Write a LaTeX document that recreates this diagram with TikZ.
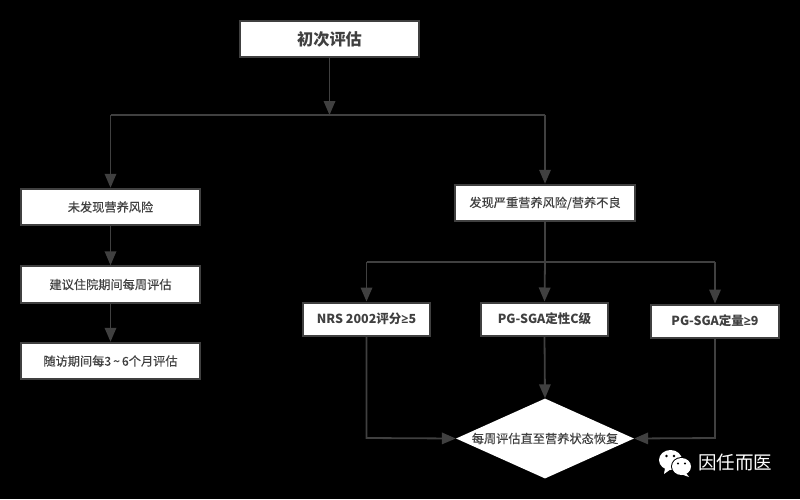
\documentclass[tikz,border=0pt]{standalone}
\usepackage{fontspec}
\usetikzlibrary{shapes.geometric,arrows.meta,calc}
\setmainfont{Noto Sans CJK SC}
\newfontfamily\medf[FakeBold=0.2]{Noto Sans CJK SC}
\newfontfamily\latinb{Open Sans}
\definecolor{ink}{HTML}{404040}
\tikzset{
  x=1pt,y=-1pt,
  box/.style={draw=ink,fill=white,line width=2pt,inner sep=0pt,text=ink,font=\fontsize{12.2}{14}\selectfont\medf},
  strong/.style={font=\fontsize{12.5}{14}\selectfont\bfseries},
  conn/.style={draw=ink,line width=1.8pt,-{Triangle[length=14pt,width=11.5pt]}},
  plain/.style={draw=ink,line width=1.8pt},
}
\begin{document}
\begin{tikzpicture}
\useasboundingbox[fill=black] (0,0) rectangle (800,499);
\node[box,minimum width=179pt,minimum height=36.5pt,font=\fontsize{16.2}{18}\selectfont\bfseries] (top) at (329.5,39) {\raisebox{-1.5pt}{初次评估}};
\node[box,minimum width=179pt,minimum height=36.5pt] (l1) at (110.5,207) {未发现营养风险};
\node[box,minimum width=179pt,minimum height=36.5pt] (l2) at (110.5,284.5) {建议住院期间每周评估};
\node[box,minimum width=179pt,minimum height=36.5pt] (l3) at (110.5,361) {随访期间每3\,\textasciitilde\,6个月评估};
\node[box,minimum width=180pt,minimum height=36.5pt] (r0) at (545,203) {发现严重营养风险/营养不良};
\node[box,strong,minimum width=127.5pt,minimum height=33pt] (a) at (366.5,319) {NRS 2002评分{\latinb\bfseries ≥}5};
\node[box,strong,minimum width=127.5pt,minimum height=33pt] (b) at (544.5,319) {PG-SGA定性C级};
\node[box,strong,minimum width=128.5pt,minimum height=33pt] (c) at (715,321) {PG-SGA定量{\latinb\bfseries ≥}9};
\node[diamond,aspect=2.225,fill=white,draw=none,inner sep=0pt,minimum width=178pt,minimum height=80pt,text=ink,font=\fontsize{12.2}{14}\selectfont\medf] (d) at (545,438.5) {\makebox[0pt]{每周评估直至营养状态恢复}};
\coordinate (j1) at (329.5,115);
\coordinate (jl) at (110.5,115);
\coordinate (jr) at (545,115);
\coordinate (j2) at (545,262);
\coordinate (ja) at (366.5,262);
\coordinate (jc) at (715,262);
\coordinate (ba) at (366.5,438);
\coordinate (bc) at (715,438);
\draw[conn] (top.south) -- (j1);
\draw[plain] (jl) -- (jr);
\draw[conn] (jl) -- (l1.north);
\draw[conn] (jr) -- (r0.north);
\draw[conn] (l1.south) -- (l2.north);
\draw[conn] (l2.south) -- (l3.north);
\draw[plain] (r0.south) -- (j2);
\draw[plain] (ja) -- (jc);
\draw[conn] (ja) -- (a.north);
\draw[conn] (j2) -- (b.north);
\draw[conn] (jc) -- (c.north);
\draw[conn] (a.south) -- (ba) -- (d.west);
\draw[conn] (b.south) -- (d.north);
\draw[conn] (c.south) -- (bc) -- (d.east);
% WeChat mark
\fill[white] (670.5,460) ellipse [x radius=11.5pt,y radius=10pt];
\fill[white] (665,468) -- (664,474) -- (671,469) -- cycle;
\fill[black] (681.5,466.5) ellipse [x radius=10.5pt,y radius=9.5pt];
\fill[white] (681.5,466.5) ellipse [x radius=9.5pt,y radius=8.5pt];
\fill[white] (686,473) -- (689,477) -- (682,474.5) -- cycle;
\fill[black] (666.5,456) circle (1.3pt) (674,456) circle (1.3pt) (678,463.5) circle (1.1pt) (685,463.5) circle (1.1pt);
\node[text=white,font=\fontsize{18.5}{20}\selectfont,inner sep=0pt] (wm) at (735,462.5) {因任而医};
\end{tikzpicture}
\end{document}
